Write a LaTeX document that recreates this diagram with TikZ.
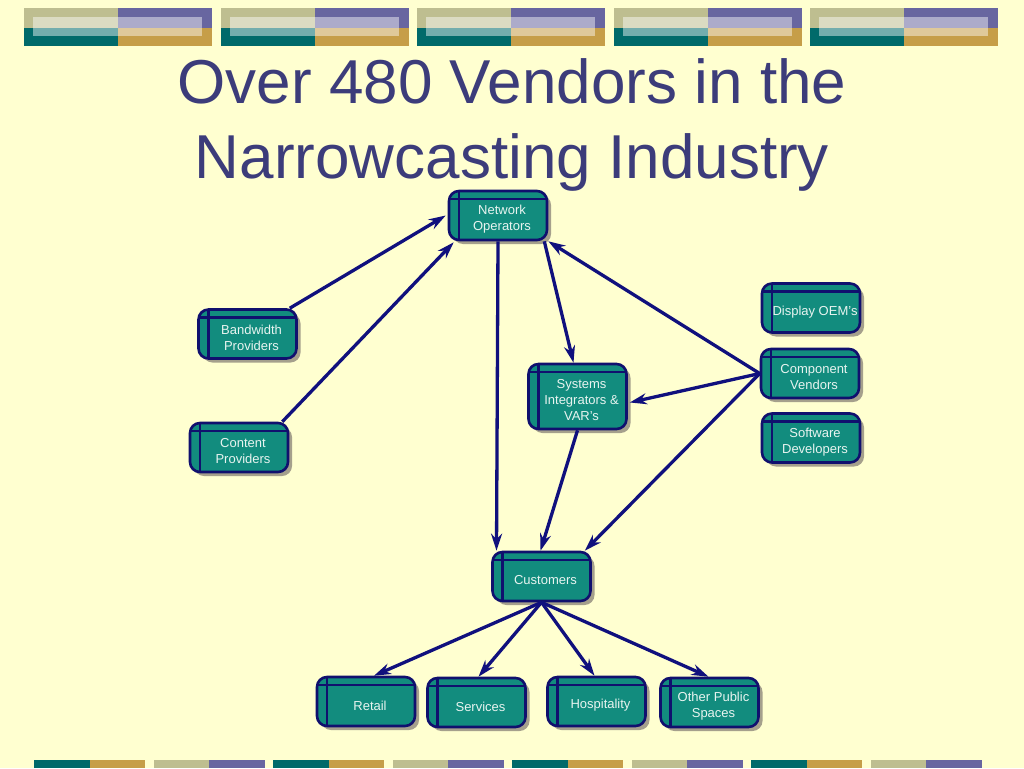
\documentclass[tikz,border=0pt]{standalone}
\usepackage{fontspec}
\setmainfont{Liberation Sans}
\usetikzlibrary{arrows.meta,shadows}
\definecolor{slidebg}{RGB}{255,255,208}
\definecolor{titleblue}{RGB}{60,60,122}
\definecolor{boxteal}{RGB}{18,140,126}
\definecolor{boxline}{RGB}{16,16,110}
\definecolor{arrowblue}{RGB}{16,16,125}
\definecolor{boxtext}{RGB}{232,244,240}
\definecolor{shadowgrey}{RGB}{165,160,140}
\definecolor{barolive}{RGB}{190,190,144}
\definecolor{barpurple}{RGB}{104,102,160}
\definecolor{barteal}{RGB}{0,106,106}
\definecolor{bargold}{RGB}{198,158,72}
\tikzset{
	vendor/.style={draw=boxline, line width=2.6pt, fill=boxteal, rounded corners=10pt,
		minimum width=98pt, minimum height=49pt,
		drop shadow={shadow xshift=4pt, shadow yshift=-4pt, fill=shadowgrey, opacity=1},
		path picture={% the two inner rules of each box
			\draw[boxline, line width=2.2pt]
			([xshift=10pt]path picture bounding box.north west) -- ([xshift=10pt]path picture bounding box.south west)
			([yshift=-8pt]path picture bounding box.north west) -- ([yshift=-8pt]path picture bounding box.north east);
		}},
	vendortext/.style={align=center, text=boxtext, xshift=4pt, yshift=-4pt,
		font=\fontsize{13}{16}\selectfont},
	link/.style={draw=arrowblue, line width=3.3pt, -{Stealth[length=17pt,width=11pt]}},
	heading/.style={anchor=base, text=titleblue, font=\fontsize{62}{75}\selectfont},
}

\begin{document}
\begin{tikzpicture}[x=1pt,y=-1pt]
		% slide background
		\fill[slidebg] (0,0) rectangle (1024,768);
		\useasboundingbox (0,0) rectangle (1024,768);
		
		% top banner blocks
		\foreach \bx in {24,220.5,417,613.5,810}{
			\fill[barolive] (\bx,8) rectangle ++(94,20);
			\fill[barpurple] (\bx+94,8) rectangle ++(94,20);
			\fill[barteal] (\bx,28) rectangle ++(94,18);
			\fill[bargold] (\bx+94,28) rectangle ++(94,18);
			\fill[white, opacity=0.45] (\bx+9,17) rectangle ++(169,19);
		}
		
		% bottom bar blocks
		\foreach \i in {0,...,7}{
			\pgfmathsetmacro{\bx}{34+119.5*\i}
			\ifodd\i
			\fill[barolive] (\bx,760) rectangle ++(55.5,8);
			\fill[barpurple] (\bx+55.5,760) rectangle ++(55.5,8);
			\else
			\fill[barteal] (\bx,760) rectangle ++(55.5,8);
			\fill[bargold] (\bx+55.5,760) rectangle ++(55.5,8);
			\fi
		}
		
		% title
		\node[heading] (title1) at (512,103) {Over 480 Vendors in the};
		\node[heading] (title2) at (512,178) {Narrowcasting Industry};
		
		% boxes
		\node[vendor, label={[vendortext]center:{Network\\Operators}}] (netop) at (498,215.5) {};
		\node[vendor, label={[vendortext]center:{Bandwidth\\Providers}}] (bandwidth) at (247.5,334) {};
		\node[vendor, label={[vendortext]center:{Content\\Providers}}] (content) at (239,447.5) {};
		\node[vendor, minimum height=65pt, label={[vendortext]center:{Systems\\Integrators \&\\VAR's}}] (integr) at (577.5,396.5) {};
		\node[vendor, label={[vendortext]center:{Display OEM's}}] (oem) at (811,308) {};
		\node[vendor, label={[vendortext]center:{Component\\Vendors}}] (component) at (810,373.5) {};
		\node[vendor, label={[vendortext]center:{Software\\Developers}}] (software) at (811,438) {};
		\node[vendor, label={[vendortext]center:{Customers}}] (customers) at (541.5,576.5) {};
		\node[vendor, label={[vendortext]center:{Retail}}] (retail) at (366,701.5) {};
		\node[vendor, label={[vendortext]center:{Services}}] (services) at (476.5,702.5) {};
		\node[vendor, label={[vendortext]center:{Hospitality}}] (hospitality) at (596.5,701.5) {};
		\node[vendor, label={[vendortext]center:{Other Public\\Spaces}}] (public) at (709.5,702.5) {};
		
		% arrows into network operators
		\draw[link] ([xshift=-8pt]bandwidth.north east) -- ([xshift=-2pt]netop.west);
		\draw[link] ([xshift=-7pt]content.north east) -- ([xshift=6pt,yshift=-1pt]netop.south west);
		\draw[link] (component.west) -- (netop.south east);
		
		% arrows out of network operators
		\draw[link] (netop.south) -- ([xshift=-45pt]customers.north);
		\draw[link] ([xshift=-4pt]netop.south east) -- ([xshift=-4pt]integr.north);
		
		% arrows out of component vendors
		\draw[link] (component.west) -- ([xshift=2pt,yshift=-6pt]integr.east);
		\draw[link] (component.west) -- ([xshift=-7pt]customers.north east);
		\draw[link] (integr.south) -- ([xshift=-1pt]customers.north);
		
		% arrows to the markets
		\draw[link] (customers.south) -- ([xshift=8pt]retail.north);
		\draw[link] (customers.south) -- ([xshift=2pt]services.north);
		\draw[link] (customers.south) -- ([xshift=-2pt]hospitality.north);
		\draw[link] (customers.south) -- ([xshift=-1pt]public.north);
		
\end{tikzpicture}
\end{document}
